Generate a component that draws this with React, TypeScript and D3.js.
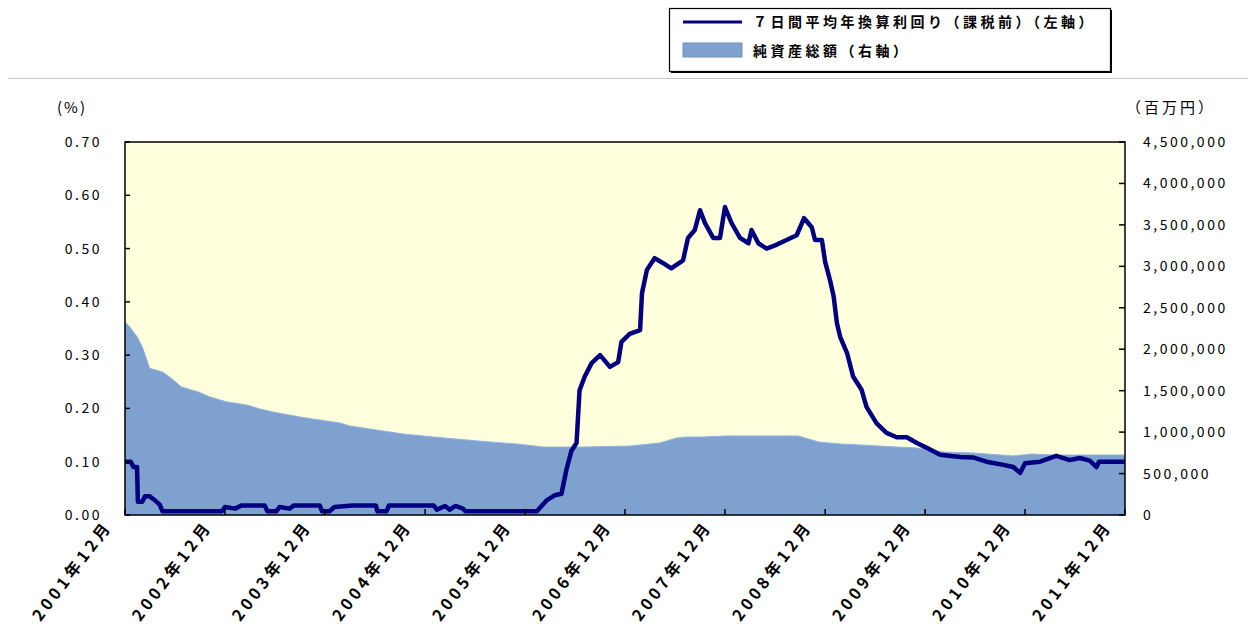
import * as d3 from 'd3';
import { useEffect, useRef } from 'react';

// 7日間平均年換算利回り（課税前）, %, left axis
const rateDates = [
  '2001-12-01', '2001-12-22', '2002-01-01', '2002-01-14', '2002-01-17', '2002-02-02', '2002-02-12', '2002-03-01',
  '2002-03-19', '2002-04-06', '2002-04-17', '2002-11-20', '2002-12-01', '2003-01-07', '2003-02-01', '2003-04-25',
  '2003-05-05', '2003-06-07', '2003-06-18', '2003-07-25', '2003-08-10', '2003-11-12', '2003-11-21', '2003-12-18',
  '2004-01-05', '2004-03-12', '2004-06-04', '2004-06-10', '2004-07-13', '2004-07-22', '2005-01-01', '2005-01-13',
  '2005-02-12', '2005-03-01', '2005-03-22', '2005-04-18', '2005-04-27', '2006-01-13', '2006-02-19', '2006-03-19',
  '2006-04-13', '2006-05-01', '2006-05-19', '2006-06-07', '2006-06-18', '2006-07-07', '2006-08-01', '2006-09-01',
  '2006-10-07', '2006-11-06', '2006-11-18', '2006-12-18', '2007-01-25', '2007-02-01', '2007-02-19', '2007-03-19',
  '2007-04-18', '2007-05-19', '2007-07-01', '2007-07-19', '2007-08-13', '2007-09-01', '2007-09-19', '2007-10-19',
  '2007-11-13', '2007-12-01', '2007-12-25', '2008-01-25', '2008-02-25', '2008-03-07', '2008-04-01', '2008-05-01',
  '2008-06-01', '2008-07-13', '2008-08-19', '2008-09-15', '2008-10-13', '2008-10-25', '2008-11-19', '2008-12-01',
  '2008-12-19', '2009-01-01', '2009-01-13', '2009-01-25', '2009-02-19', '2009-03-13', '2009-04-13', '2009-05-01',
  '2009-06-07', '2009-07-13', '2009-08-19', '2009-09-25', '2009-11-01', '2009-12-07', '2010-01-25', '2010-04-07',
  '2010-05-25', '2010-07-13', '2010-09-13', '2010-10-19', '2010-11-13', '2010-12-01', '2011-01-25', '2011-03-25',
  '2011-05-13', '2011-06-19', '2011-07-25', '2011-08-19', '2011-08-28', '2011-09-25', '2011-12-01',
];
const rateValues = [
  0.10, 0.10, 0.09, 0.09, 0.025, 0.025, 0.035, 0.035,
  0.028, 0.02, 0.007, 0.007, 0.015, 0.012, 0.018, 0.018,
  0.007, 0.007, 0.015, 0.012, 0.018, 0.018, 0.007, 0.007,
  0.015, 0.018, 0.018, 0.007, 0.007, 0.018, 0.018, 0.01,
  0.017, 0.01, 0.017, 0.012, 0.007, 0.007, 0.028, 0.037,
  0.04, 0.085, 0.12, 0.135, 0.234, 0.26, 0.285, 0.30,
  0.278, 0.287, 0.325, 0.34, 0.347, 0.416, 0.46, 0.482,
  0.473, 0.463, 0.478, 0.52, 0.535, 0.572, 0.548, 0.52,
  0.52, 0.578, 0.548, 0.52, 0.51, 0.535, 0.51, 0.50,
  0.506, 0.516, 0.525, 0.557, 0.54, 0.516, 0.516, 0.475,
  0.44, 0.41, 0.36, 0.334, 0.304, 0.26, 0.235, 0.203,
  0.172, 0.154, 0.146, 0.146, 0.135, 0.126, 0.113, 0.109,
  0.108, 0.10, 0.094, 0.09, 0.079, 0.097, 0.10, 0.111,
  0.103, 0.107, 0.102, 0.09, 0.10, 0.10, 0.10,
];

// 純資産総額, 百万円, right axis
const assetDates = [
  '2001-12-01', '2001-12-18', '2002-01-14', '2002-02-02', '2002-03-01', '2002-04-17', '2002-05-19', '2002-06-25',
  '2002-08-25', '2002-10-07', '2002-12-07', '2003-02-19', '2003-04-07', '2003-05-25', '2003-09-01', '2003-11-12',
  '2004-01-25', '2004-03-01', '2004-06-07', '2004-09-13', '2005-01-01', '2005-07-25', '2005-11-01', '2006-02-07',
  '2006-07-01', '2006-12-18', '2007-04-07', '2007-06-07', '2007-07-13', '2007-09-07', '2007-12-07', '2008-08-25',
  '2008-09-19', '2008-11-07', '2009-01-25', '2009-04-07', '2009-08-19', '2009-11-01', '2010-02-07', '2010-05-25',
  '2010-10-19', '2010-12-25', '2011-03-13', '2011-12-01',
];
const assetValues = [
  2330000, 2270000, 2150000, 2030000, 1770000, 1725000, 1650000, 1545000,
  1485000, 1425000, 1365000, 1327000, 1280000, 1243000, 1182000, 1146000,
  1110000, 1074000, 1025000, 977000, 941000, 881000, 857000, 820000,
  820000, 832000, 869000, 929000, 941000, 941000, 953000, 953000,
  929000, 881000, 857000, 845000, 820000, 808000, 760000, 748000,
  712000, 736000, 724000, 724000,
];

const xTickDates = [
  '2001-12-01', '2002-12-01', '2003-12-01', '2004-12-01', '2005-12-01', '2006-12-01',
  '2007-12-01', '2008-12-01', '2009-12-01', '2010-12-01', '2011-12-01',
];
const leftTicks = [0, 0.1, 0.2, 0.3, 0.4, 0.5, 0.6, 0.7];
const rightTicks = [0, 500000, 1000000, 1500000, 2000000, 2500000, 3000000, 3500000, 4000000, 4500000];

const legendLabels = ['７日間平均年換算利回り（課税前）（左軸）', '純資産総額（右軸）'];

const FONT = '"Noto Sans CJK JP", "Noto Sans", sans-serif';

const drawChart = (container: HTMLElement) => {
  const width = 1248;
  const height = 635;
  const left = 125;
  const right = 1125;
  const top = 142;
  const bottom = 515;
  const parse = d3.utcParse('%Y-%m-%d');

  const x = d3.scaleUtc([parse(xTickDates[0])!, parse(xTickDates[xTickDates.length - 1])!], [left, right]);
  const yL = d3.scaleLinear([0, 0.7], [bottom, top]);
  const yR = d3.scaleLinear([0, 4500000], [bottom, top]);

  const svg = d3.select(container).append('svg')
    .attr('width', width)
    .attr('height', height)
    .attr('viewBox', `0 0 ${width} ${height}`)
    .style('display', 'block')
    .style('font-family', FONT);

  svg.append('rect').attr('width', width).attr('height', height).attr('fill', '#fff');

  // separator line under legend
  svg.append('line')
    .attr('x1', 8).attr('x2', width).attr('y1', 78.5).attr('y2', 78.5)
    .attr('stroke', '#c8c8c8').attr('stroke-width', 1);

  // legend
  const lg = svg.append('g');
  lg.append('rect').attr('x', 671).attr('y', 10).attr('width', 441).attr('height', 63).attr('fill', '#000');
  lg.append('rect').attr('x', 669.5).attr('y', 8.5).attr('width', 441).attr('height', 63)
    .attr('fill', '#fff').attr('stroke', '#000').attr('stroke-width', 1.2);
  lg.append('line').attr('x1', 683).attr('x2', 742).attr('y1', 22).attr('y2', 22)
    .attr('stroke', '#000080').attr('stroke-width', 3);
  lg.append('rect').attr('x', 683).attr('y', 43).attr('width', 59).attr('height', 14)
    .attr('fill', '#7fa1cf').attr('stroke', '#6f90c0').attr('stroke-width', 1);
  legendLabels.forEach((t, i) => {
    lg.append('text').attr('x', 753).attr('y', 27 + i * 29)
      .attr('font-size', 14).attr('font-weight', 'bold').attr('letter-spacing', 3.5)
      .attr('fill', '#000').text(t);
  });

  // plot background
  svg.append('rect').attr('x', left).attr('y', top).attr('width', right - left).attr('height', bottom - top)
    .attr('fill', '#ffffdd');

  const area = d3.area<number>()
    .x(i => x(parse(assetDates[i])!))
    .y0(bottom)
    .y1(i => yR(assetValues[i]));
  const areaTop = d3.line<number>()
    .x(i => x(parse(assetDates[i])!))
    .y(i => yR(assetValues[i]));
  svg.append('path').attr('d', area(d3.range(assetDates.length))).attr('fill', '#7fa1cf');
  svg.append('path').attr('d', areaTop(d3.range(assetDates.length)))
    .attr('fill', 'none').attr('stroke', '#8fb3e0').attr('stroke-width', 1);

  const line = d3.line<number>()
    .curve(d3.curveLinear)
    .x(i => x(parse(rateDates[i])!))
    .y(i => yL(rateValues[i]));
  svg.append('path').attr('d', line(d3.range(rateDates.length)))
    .attr('fill', 'none').attr('stroke', '#000080').attr('stroke-width', 4.5)
    .attr('stroke-linejoin', 'round').attr('stroke-linecap', 'butt');

  // frame
  svg.append('rect').attr('x', left).attr('y', top).attr('width', right - left).attr('height', bottom - top)
    .attr('fill', 'none').attr('stroke', '#000').attr('stroke-width', 1.5);

  // left axis
  const gl = svg.append('g');
  leftTicks.forEach(v => {
    gl.append('line').attr('x1', left).attr('x2', left + 5).attr('y1', yL(v)).attr('y2', yL(v))
      .attr('stroke', '#000').attr('stroke-width', 1.5);
    gl.append('text').attr('x', 102).attr('y', yL(v) + 5).attr('text-anchor', 'end')
      .attr('font-size', 14).attr('letter-spacing', 2.5).attr('fill', '#000').text(d3.format('.2f')(v));
  });
  gl.append('text').attr('x', 57).attr('y', 113).attr('font-size', 15).attr('letter-spacing', 2)
    .attr('fill', '#000').text('(%)');

  // right axis
  const gr = svg.append('g');
  rightTicks.forEach(v => {
    gr.append('line').attr('x1', right - 6).attr('x2', right).attr('y1', yR(v)).attr('y2', yR(v))
      .attr('stroke', '#000').attr('stroke-width', 1.5);
    gr.append('text').attr('x', 1143).attr('y', yR(v) + 5).attr('text-anchor', 'start')
      .attr('font-size', 14).attr('letter-spacing', 2.5).attr('fill', '#000').text(d3.format(',')(v));
  });
  gr.append('text').attr('x', 1126).attr('y', 113).attr('font-size', 15).attr('letter-spacing', 3)
    .attr('fill', '#000').text('（百万円）');

  // bottom axis
  const gb = svg.append('g');
  xTickDates.forEach(s => {
    const px = x(parse(s)!);
    gb.append('line').attr('x1', px).attr('x2', px).attr('y1', bottom).attr('y2', bottom - 6)
      .attr('stroke', '#000').attr('stroke-width', 1.5);
    const [yy, mm] = s.split('-');
    gb.append('text')
      .attr('transform', `translate(${px - 12},${526}) rotate(-53)`)
      .attr('text-anchor', 'end')
      .attr('font-size', 16).attr('font-weight', 'bold').attr('letter-spacing', 4)
      .attr('fill', '#000')
      .text(`${yy}年${+mm}月`);
  });

  return svg.node();
};

export default function App() {
  const domRef = useRef<HTMLDivElement>(null);
  useEffect(() => {
    if (domRef.current) {
      drawChart(domRef.current);
    }
    return () => {
      d3.select(domRef.current).selectAll('svg').remove();
    };
  }, [domRef]);
  return <div ref={domRef} style={{ position: 'absolute', left: 0, top: 0 }}></div>;
}
